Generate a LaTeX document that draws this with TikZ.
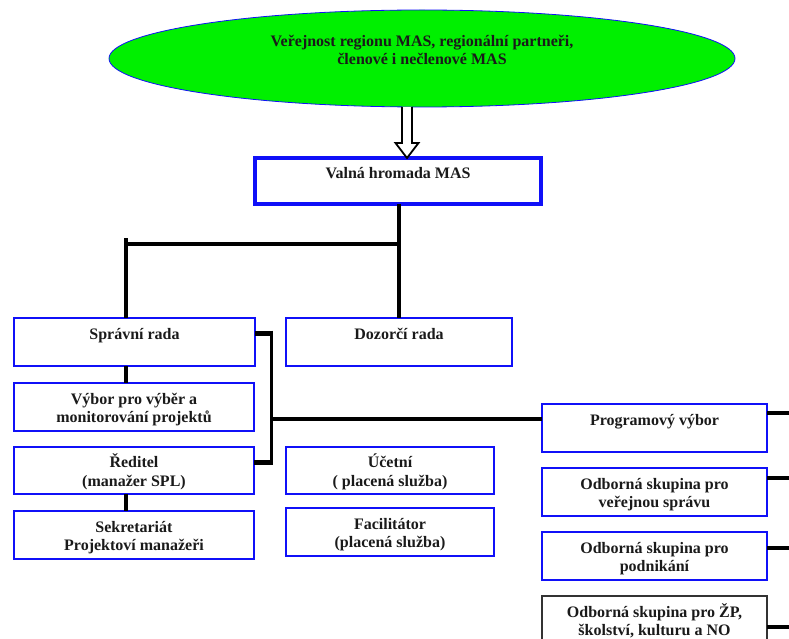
\documentclass[tikz,border=0pt]{standalone}
\usepackage{fontspec}
\setmainfont{Liberation Serif}
\usetikzlibrary{calc,shapes.geometric}
\definecolor{boxblue}{HTML}{1010F8}
\definecolor{elgreen}{HTML}{00F000}
\definecolor{txt}{HTML}{1A1A1A}
\newcommand{\twolines}[2]{\rule{0pt}{18pt}#1\\#2\rule[-5pt]{0pt}{5pt}}
\begin{document}
\begin{tikzpicture}[x=1pt,y=1pt,
  every node/.style={inner sep=0pt, outer sep=0pt},
  lbl/.style={font=\bfseries\fontsize{16}{18.5}\selectfont, text=txt, align=center},
  orgbox/.style={lbl, draw=boxblue, line width=2pt, fill=white, rectangle},
  conn/.style={draw=black, line width=4pt},
  hollowarr/.style={draw=black, line width=1.8pt, fill=white, line join=miter}
]
\useasboundingbox (0,0) rectangle (789,-639);

% ellipse
\node[ellipse, draw=boxblue, line width=0.8pt, fill=elgreen,
      minimum width=626, minimum height=97] (ell) at (422,-58.5) {};
\node[lbl] (elltext) at (422,-50) {Veřejnost regionu MAS, regionální partneři,\\členové i nečlenové MAS};

% boxes
\node[orgbox, line width=4.5pt, minimum width=286, minimum height=46] (valna) at (398,-181) {\twolines{Valná hromada MAS}{}};
\node[orgbox, minimum width=241, minimum height=48] (sprava) at (134.5,-342) {\twolines{Správní rada}{}};
\node[orgbox, minimum width=226, minimum height=48] (dozor) at (399,-342) {\twolines{Dozorčí rada}{}};
\node[orgbox, minimum width=240, minimum height=48] (vybor) at (134,-407) {\twolines{Výbor pro výběr a}{monitorování projektů}};
\node[orgbox, minimum width=240, minimum height=47] (reditel) at (134,-470.5) {\twolines{Ředitel}{(manažer SPL)}};
\node[orgbox, minimum width=240, minimum height=48] (sekret) at (134,-535) {\twolines{Sekretariát}{Projektoví manažeři}};
\node[orgbox, minimum width=208, minimum height=47] (ucetni) at (390,-470.5) {\twolines{Účetní}{( placená služba)}};
\node[orgbox, minimum width=208, minimum height=48] (facil) at (390,-532) {\twolines{Facilitátor}{(placená služba)}};
\node[orgbox, minimum width=225, minimum height=48] (prog) at (654.5,-428) {\twolines{Programový výbor}{}};
\node[orgbox, minimum width=225, minimum height=48] (odb1) at (654.5,-492) {\twolines{Odborná skupina pro}{veřejnou správu}};
\node[orgbox, minimum width=225, minimum height=48] (odb2) at (654.5,-556) {\twolines{Odborná skupina pro}{podnikání}};
\node[orgbox, draw=black!80, minimum width=225, minimum height=48] (odb3) at (654.5,-620) {\twolines{Odborná skupina pro ŽP,}{školství, kulturu a NO}};

% hollow arrow from ellipse to Valná hromada
\coordinate (a0) at (407,-107);
\coordinate (atip) at (407,-158);
\draw[hollowarr] ($(a0)+(-5,0)$) -- ($(a0)+(-5,-36)$) -- ($(a0)+(-11.5,-36)$) -- (atip)
  -- ($(a0)+(11.5,-36)$) -- ($(a0)+(5,-36)$) -- ($(a0)+(5,0)$);

% tree connectors
\coordinate (busL) at (126,-244);
\coordinate (busR) at (399,-244);
\draw[conn] (valna.south -| busR) -- (dozor.north -| busR);
\draw[conn] (busL |- 0,-238) -- (busL |- sprava.north);
\draw[conn] (busL) -- (busR);
\draw[conn] (sprava.south -| busL) -- (vybor.north -| busL);
\draw[conn] (reditel.south -| busL) -- (sekret.north -| busL);

% bracket Správní rada -- Ředitel, to Programový výbor
\coordinate (brT) at (271,-333);
\coordinate (brM) at (271,-419);
\coordinate (brB) at (271,-462);
\draw[conn, line width=5pt] (brT -| sprava.east) -- ($(brT)+(1.5,0)$);
\draw[conn, line width=5pt] (brB -| reditel.east) -- ($(brB)+(1.5,0)$);
\draw[conn, line width=3pt] ($(brT)+(0,2.5)$) -- ($(brB)+(0,-2.5)$);
\draw[conn] (brM) -- (brM -| prog.west);

% right-hand connectors
\coordinate (r1) at (789,-413);
\coordinate (r2) at (789,-478);
\coordinate (r3) at (789,-548);
\coordinate (r4) at (789,-627);
\draw[conn] (r1 -| prog.east) -- (r1);
\draw[conn] (r2 -| odb1.east) -- (r2);
\draw[conn] (r3 -| odb2.east) -- (r3);
\draw[conn] (r4 -| odb3.east) -- (r4);
\end{tikzpicture}
\end{document}
